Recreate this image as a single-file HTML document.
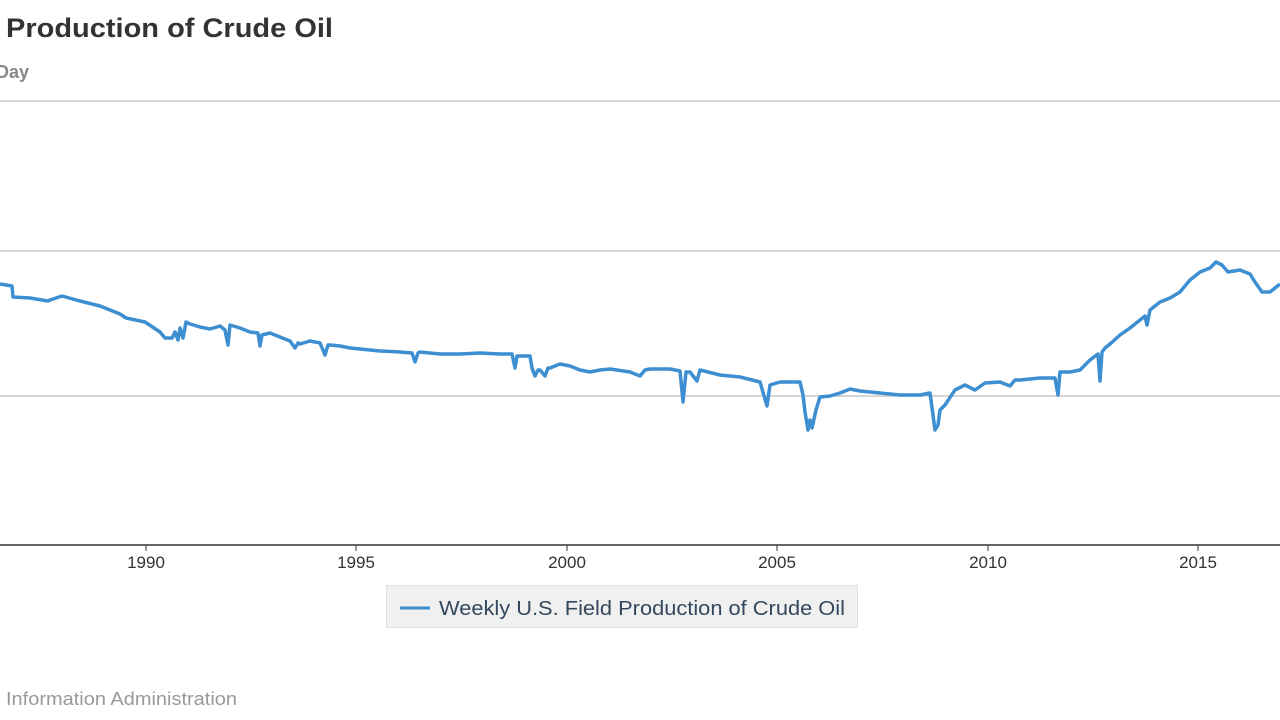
<!DOCTYPE html>
<html><head><meta charset="utf-8"><style>
html,body{margin:0;padding:0;background:#fff;width:1280px;height:720px;overflow:hidden;font-family:"Liberation Sans",Arial,sans-serif}
</style></head><body>
<svg width="1280" height="720" xmlns="http://www.w3.org/2000/svg">
<text x="6" y="37" font-size="27" font-weight="bold" fill="#333" textLength="327" lengthAdjust="spacingAndGlyphs">Production of Crude Oil</text>
<text x="-4" y="78" font-size="18" font-weight="bold" fill="#888" textLength="33" lengthAdjust="spacingAndGlyphs">Day</text>
<line x1="0" y1="101" x2="1280" y2="101" stroke="#c8c8c8" stroke-width="1.5"/>
<line x1="0" y1="251" x2="1280" y2="251" stroke="#c8c8c8" stroke-width="1.5"/>
<line x1="0" y1="396" x2="1280" y2="396" stroke="#c8c8c8" stroke-width="1.5"/>
<line x1="0" y1="545" x2="1280" y2="545" stroke="#333" stroke-width="1.5"/>
<g stroke="#333" stroke-width="1">
<line x1="146" y1="545" x2="146" y2="551"/><line x1="356" y1="545" x2="356" y2="551"/>
<line x1="567" y1="545" x2="567" y2="551"/><line x1="777" y1="545" x2="777" y2="551"/>
<line x1="988" y1="545" x2="988" y2="551"/><line x1="1198" y1="545" x2="1198" y2="551"/>
</g>
<g font-size="17" fill="#333" text-anchor="middle">
<text x="146" y="568">1990</text><text x="356" y="568">1995</text><text x="567" y="568">2000</text>
<text x="777" y="568">2005</text><text x="988" y="568">2010</text><text x="1198" y="568">2015</text>
</g>
<polyline fill="none" stroke="#3d8fd1" stroke-width="3.5" stroke-linejoin="round" points="
0,284 12,286 13,297 30,298 48,301 50,300 62,296 80,301 100,306 120,314 126,318 145,322 160,332 165,338 172,338 175,332 178,340 180,328 183,338 186,322 190,324 200,327 210,329 220,326 225,330 228,345 230,325 240,328 250,332 258,333 260,346 262,335 270,333 280,337 290,341 295,348 298,343 300,344 310,341 320,343 325,355 328,345 330,345 340,346 350,348 360,349 370,350 380,351 400,352 412,353 415,362 418,353 420,352 440,354 460,354 480,353 500,354 512,354 515,368 517,356 530,356 532,368 535,376 538,370 540,370 545,376 548,368 550,368 560,364 570,366 580,370 590,372 600,370 610,369 630,372 640,376 645,370 650,369 670,369 680,371 683,402 686,372 690,372 697,381 700,370 720,375 740,377 760,382 767,406 770,385 780,382 790,382 800,382 803,395 805,412 808,430 810,420 812,428 816,410 820,397 830,396 840,393 850,389 860,391 870,392 880,393 900,395 920,395 930,393 933,415 935,430 938,425 940,410 945,405 955,390 965,385 975,390 985,383 1000,382 1010,386 1015,380 1020,380 1040,378 1055,378 1058,395 1060,372 1070,372 1080,370 1090,360 1098,354 1100,381 1102,352 1105,348 1110,344 1120,335 1130,328 1140,320 1145,316 1147,325 1150,310 1160,302 1170,298 1180,292 1190,280 1200,272 1210,268 1216,262 1222,265 1228,272 1240,270 1250,274 1255,282 1262,292 1270,292 1280,284"/>
<rect x="386.5" y="585.5" width="471" height="42" fill="#f0f0f0" stroke="#e0e0e0"/>
<line x1="400" y1="608" x2="430" y2="608" stroke="#3d8fd1" stroke-width="3"/>
<text x="439" y="615" font-size="20" fill="#33485e" textLength="406" lengthAdjust="spacingAndGlyphs">Weekly U.S. Field Production of Crude Oil</text>
<text x="6" y="705" font-size="18" fill="#999" textLength="231" lengthAdjust="spacingAndGlyphs">Information Administration</text>
</svg>
</body></html>
